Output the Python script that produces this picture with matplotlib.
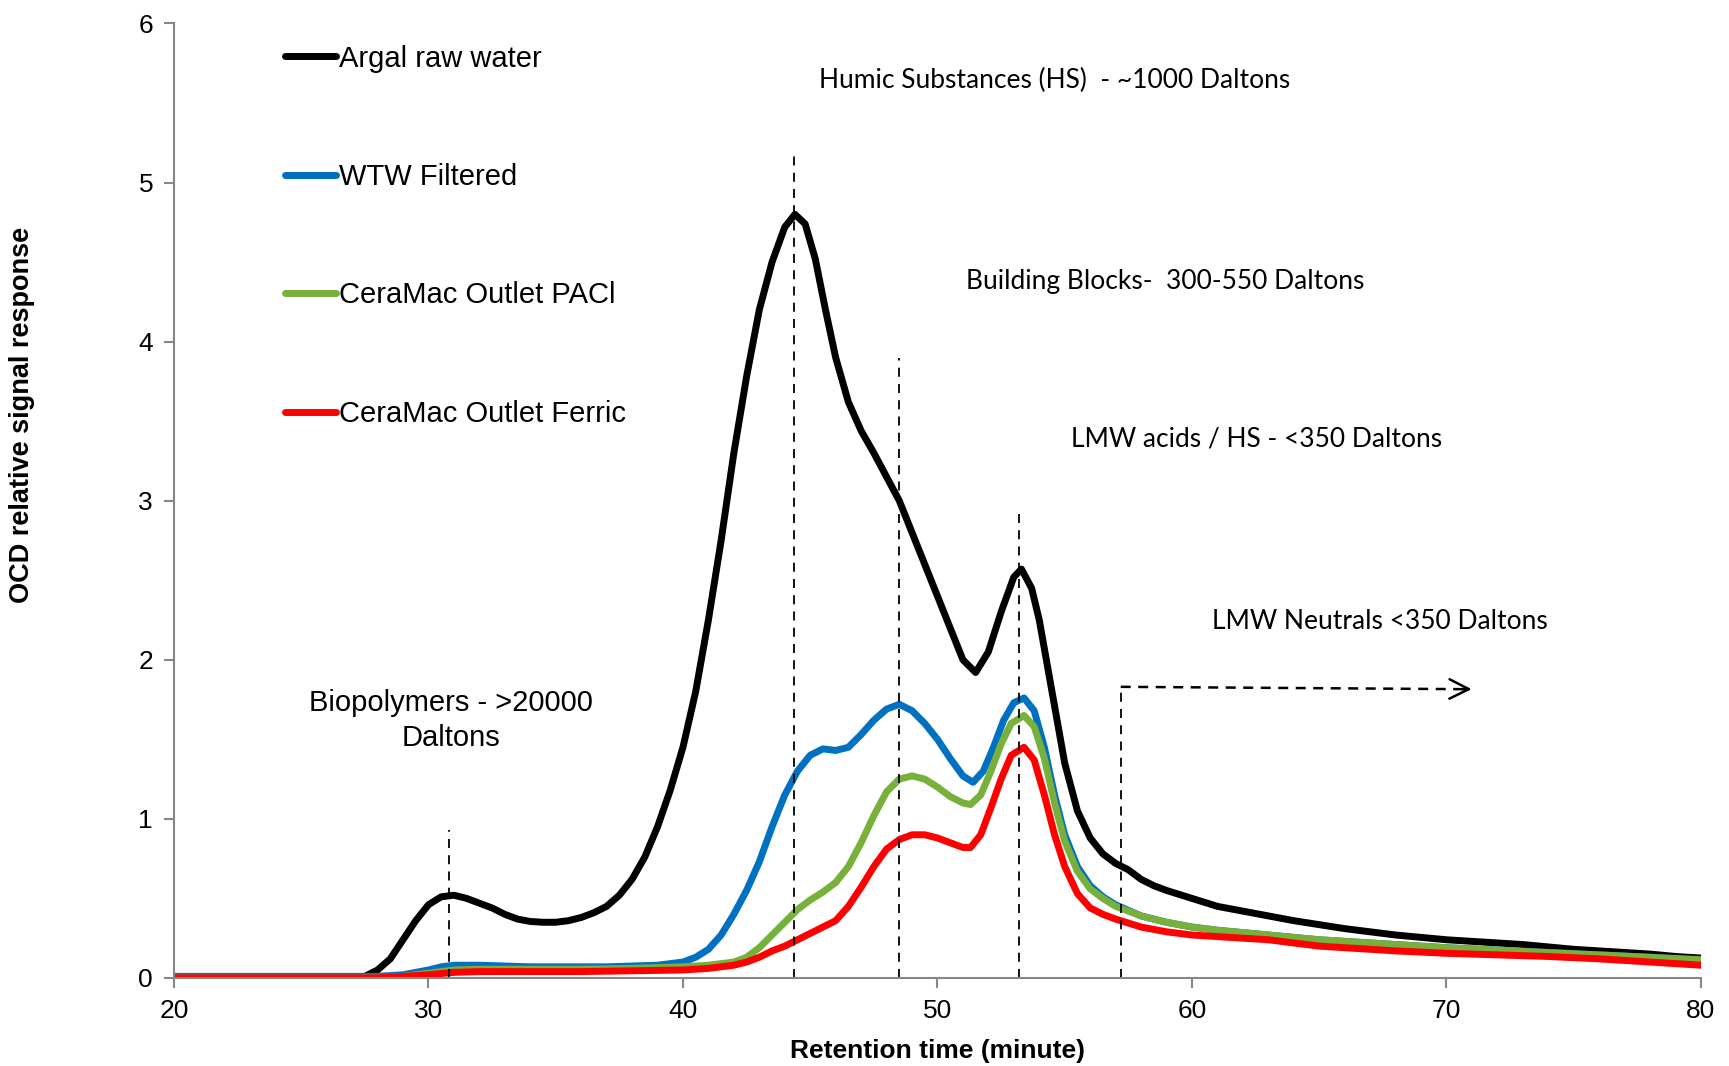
import matplotlib
import matplotlib.pyplot as plt

matplotlib.use('Agg')

# retention time (minute) / OCD signal
raw_x = [20, 22, 24, 26, 27, 27.5, 28, 28.5, 29, 29.5, 30, 30.5, 31, 31.5, 32, 32.5, 33, 33.5, 34, 34.5,
         35, 35.5, 36, 36.5, 37, 37.5, 38, 38.5, 39, 39.5, 40, 40.5, 41, 41.5, 42, 42.5, 43, 43.5, 44, 44.4,
         44.8, 45.2, 45.6, 46, 46.5, 47, 47.5, 48, 48.5, 49, 49.5, 50, 50.5, 51, 51.5, 52, 52.5, 53, 53.3, 53.7,
         54, 54.5, 55, 55.5, 56, 56.5, 57, 57.5, 58, 58.5, 59, 60, 61, 62, 63, 64, 65, 66, 67, 68,
         69, 70, 71, 72, 73, 74, 75, 76, 77, 78, 79, 80]
raw_y = [0, 0, 0, 0, 0, 0.01, 0.05, 0.12, 0.24, 0.36, 0.46, 0.51, 0.52, 0.5, 0.47, 0.44, 0.4, 0.37, 0.355, 0.35,
         0.35, 0.36, 0.38, 0.41, 0.45, 0.52, 0.62, 0.76, 0.95, 1.18, 1.45, 1.8, 2.25, 2.75, 3.3, 3.78, 4.2, 4.5, 4.72, 4.8,
         4.74, 4.52, 4.2, 3.9, 3.62, 3.44, 3.3, 3.15, 3.0, 2.8, 2.6, 2.4, 2.2, 2.0, 1.92, 2.05, 2.3, 2.52, 2.57, 2.45,
         2.25, 1.8, 1.35, 1.05, 0.88, 0.78, 0.72, 0.68, 0.62, 0.58, 0.55, 0.5, 0.45, 0.42, 0.39, 0.36, 0.335, 0.31, 0.29, 0.27,
         0.255, 0.24, 0.23, 0.22, 0.21, 0.195, 0.18, 0.17, 0.16, 0.15, 0.135, 0.125]

wtw_x = [20, 25, 28, 29, 29.5, 30, 30.5, 31, 32, 33, 34, 35, 36, 37, 38, 39, 39.5, 40, 40.5, 41, 41.5, 42, 42.5,
         43, 43.5, 44, 44.5, 45, 45.5, 46, 46.5, 47, 47.5, 48, 48.5, 49, 49.5, 50, 50.5, 51, 51.4, 51.8, 52.2,
         52.6, 53, 53.4, 53.8, 54.2, 54.6, 55, 55.5, 56, 56.5, 57, 58, 59, 60, 61, 62, 63, 64, 65, 66, 68, 70,
         72, 74, 76, 78, 80]
wtw_y = [0.01, 0.01, 0.01, 0.02, 0.035, 0.05, 0.07, 0.08, 0.08, 0.075, 0.07, 0.07, 0.07, 0.07, 0.075, 0.08, 0.09, 0.1, 0.13, 0.18, 0.27, 0.4, 0.55,
         0.73, 0.95, 1.15, 1.3, 1.4, 1.44, 1.43, 1.45, 1.53, 1.62, 1.69, 1.72, 1.68, 1.6, 1.5, 1.38, 1.27, 1.23, 1.3, 1.45,
         1.62, 1.73, 1.76, 1.68, 1.45, 1.15, 0.9, 0.7, 0.58, 0.51, 0.46, 0.39, 0.35, 0.32, 0.3, 0.285, 0.27, 0.255, 0.24, 0.23, 0.21, 0.19,
         0.175, 0.16, 0.145, 0.13, 0.11]

paci_x = [20, 28, 29, 30, 31, 32, 34, 36, 38, 40, 41, 42, 42.5, 43, 43.5, 44, 44.5, 45, 45.5, 46, 46.5, 47, 47.5,
          48, 48.5, 49, 49.5, 50, 50.5, 51, 51.3, 51.7, 52.1, 52.5, 52.9, 53.4, 53.8, 54.2, 54.6, 55, 55.5, 56, 56.5,
          57, 58, 59, 60, 61, 62, 63, 64, 65, 66, 68, 70, 72, 74, 76, 78, 80]
paci_y = [0, 0, 0.01, 0.03, 0.05, 0.055, 0.055, 0.055, 0.06, 0.07, 0.08, 0.1, 0.13, 0.19, 0.27, 0.35, 0.43, 0.49, 0.54, 0.6, 0.7, 0.85, 1.02,
          1.17, 1.25, 1.27, 1.25, 1.2, 1.14, 1.1, 1.09, 1.15, 1.3, 1.47, 1.6, 1.65, 1.58, 1.38, 1.1, 0.86, 0.67, 0.56, 0.5,
          0.45, 0.39, 0.35, 0.32, 0.3, 0.285, 0.27, 0.255, 0.24, 0.23, 0.21, 0.19, 0.175, 0.16, 0.145, 0.13, 0.115]

ferric_x = [20, 28, 29, 30, 31, 32, 34, 36, 38, 40, 41, 42, 42.5, 43, 43.5, 44, 44.5, 45, 45.5, 46, 46.5, 47, 47.5,
            48, 48.5, 49, 49.5, 50, 50.5, 51, 51.3, 51.7, 52.1, 52.5, 52.9, 53.4, 53.8, 54.2, 54.6, 55, 55.5, 56, 56.5,
            57, 58, 59, 60, 61, 62, 63, 64, 65, 66, 68, 70, 72, 74, 76, 78, 80]
ferric_y = [0, 0, 0.01, 0.02, 0.035, 0.04, 0.04, 0.04, 0.045, 0.05, 0.06, 0.08, 0.1, 0.13, 0.17, 0.2, 0.24, 0.28, 0.32, 0.36, 0.45, 0.57, 0.7,
            0.81, 0.87, 0.9, 0.9, 0.88, 0.85, 0.82, 0.82, 0.9, 1.07, 1.25, 1.4, 1.45, 1.37, 1.15, 0.9, 0.7, 0.53, 0.44, 0.4,
            0.37, 0.32, 0.29, 0.27, 0.26, 0.25, 0.24, 0.22, 0.2, 0.19, 0.17, 0.155, 0.145, 0.135, 0.12, 0.1, 0.08]

# fraction markers: retention time and height of the dashed line
marker_x = [30.8, 44.35, 48.5, 53.2, 57.2]
marker_top = [0.93, 5.2, 3.9, 2.95, 1.83]

labels = ['Biopolymers - >20000\nDaltons', 'Humic Substances (HS)  - ~1000 Daltons',
          'Building Blocks-  300-550 Daltons', 'LMW acids / HS - <350 Daltons',
          'LMW Neutrals <350 Daltons']
label_pos = [(30.87, 1.62), (54.6, 5.64), (58.95, 4.38), (62.55, 3.39), (67.4, 2.24)]

plt.rcParams['font.family'] = ['Liberation Sans', 'DejaVu Sans']

fig = plt.figure(figsize=(17.29, 10.66), dpi=100)
ax = fig.add_axes([0.1006, 0.0826, 0.8832, 0.8954])

lw = 5.0
ax.plot(raw_x, raw_y, color='black', lw=lw, label='Argal raw water', solid_capstyle='round', solid_joinstyle='round')
ax.plot(wtw_x, wtw_y, color='#0070C0', lw=lw, label='WTW Filtered', solid_capstyle='round', solid_joinstyle='round')
ax.plot(paci_x, paci_y, color='#77B03A', lw=lw, label='CeraMac Outlet PACl', solid_capstyle='round', solid_joinstyle='round')
ax.plot(ferric_x, ferric_y, color='#FF0000', lw=lw, label='CeraMac Outlet Ferric', solid_capstyle='round', solid_joinstyle='round')

for mx, mt in zip(marker_x, marker_top):
    ax.plot([mx, mx], [0, mt], color='black', lw=1.3, ls=(0, (5, 4)))

# arrow for the neutrals region
ax.plot([57.2, 70.9], [1.83, 1.815], color='black', lw=1.8, ls=(0, (4, 3)))
ax.annotate('', xy=(71.1, 1.815), xytext=(70.5, 1.816),
            arrowprops=dict(arrowstyle='->', color='black', lw=1.8, mutation_scale=35))

for i, (txt, (tx, ty)) in enumerate(zip(labels, label_pos)):
    if i == 0:
        ax.text(tx, ty, txt, ha='center', va='center', fontsize=21, linespacing=1.3)
    else:
        ax.text(tx, ty, txt, ha='center', va='center', fontsize=19, family=['Lato', 'DejaVu Sans'])

ax.set_xlim(20, 80)
ax.set_ylim(0, 6)
ax.set_xticks(range(20, 81, 10))
ax.set_yticks(range(0, 7))
ax.spines['top'].set_visible(False)
ax.spines['right'].set_visible(False)
for s in ['left', 'bottom']:
    ax.spines[s].set_color('#868686')
    ax.spines[s].set_linewidth(1.5)
ax.tick_params(axis='both', colors='#868686', labelcolor='black', labelsize=19, length=7, width=1.5, pad=8)

ax.set_xlabel('Retention time (minute)', fontsize=19, fontweight='bold', labelpad=12)
ax.set_ylabel('OCD relative signal response', fontsize=19.5, fontweight='bold')
ax.yaxis.set_label_coords(-0.091, 0.59)

leg = ax.legend(loc='upper left', bbox_to_anchor=(0.065, 0.99), frameon=False, fontsize=21,
                handlelength=1.75, handletextpad=0.1, labelspacing=3.1, borderaxespad=0)

fig.savefig('out.png', dpi=100)
